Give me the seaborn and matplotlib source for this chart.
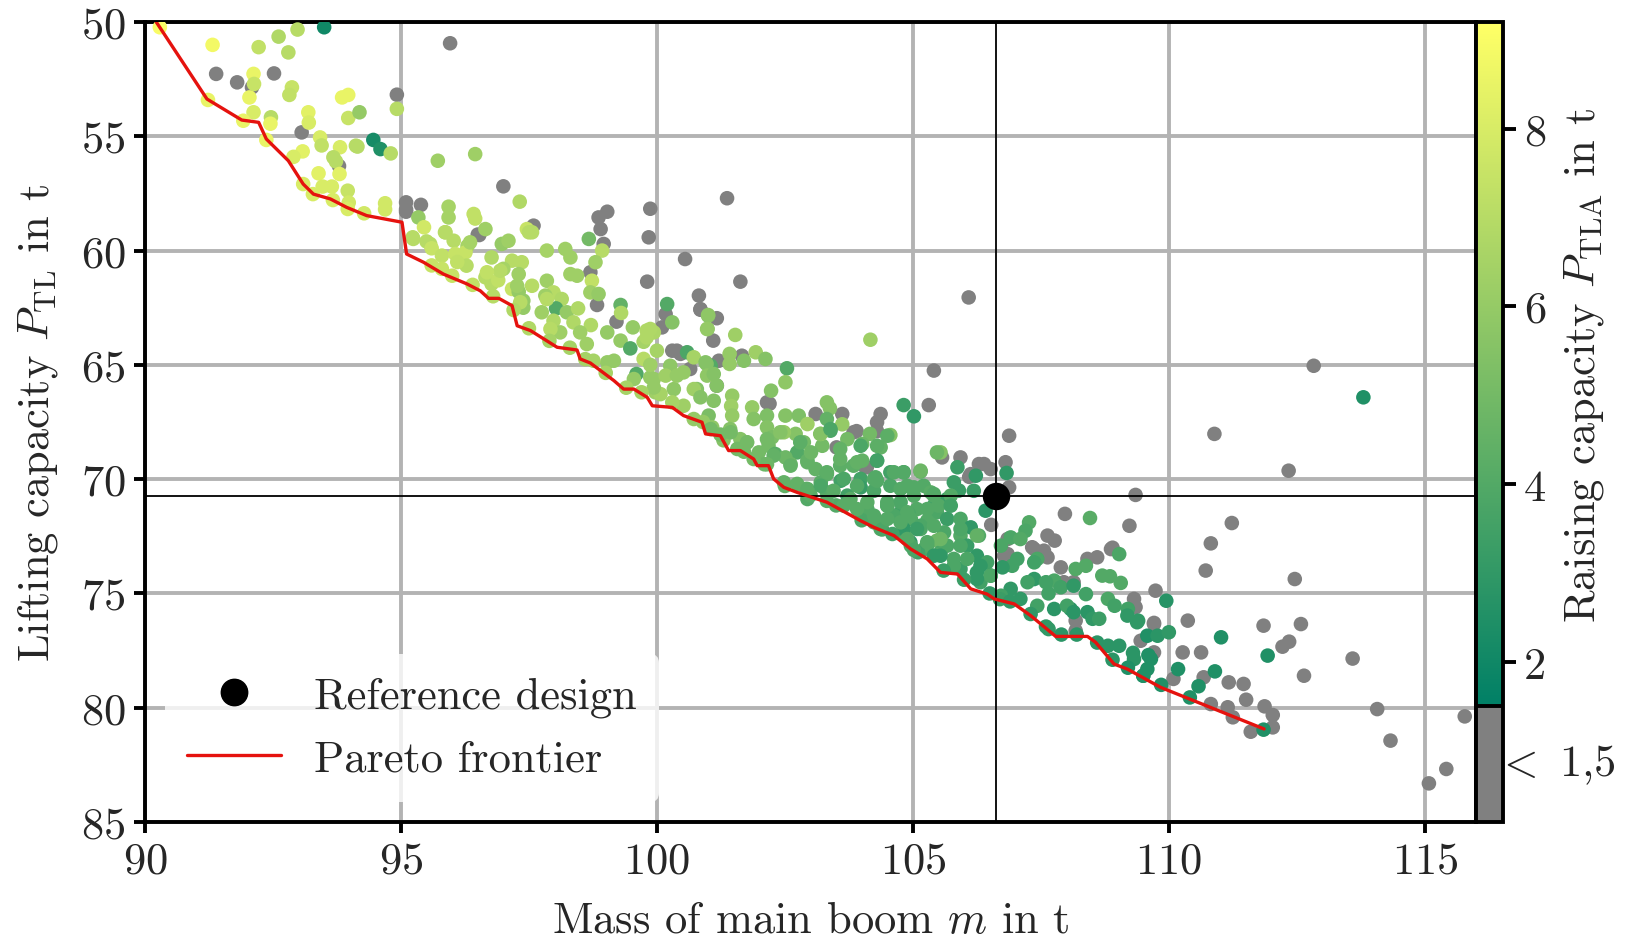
import numpy as np
import pandas as pd
import matplotlib
matplotlib.use("Agg")
import matplotlib.pyplot as plt
import matplotlib.transforms as mtransforms
from matplotlib.colors import ListedColormap, Normalize, to_rgba
from matplotlib.cm import ScalarMappable
from matplotlib.lines import Line2D
import seaborn as sns

# ---------------- data ----------------
x_ticks = [90, 95, 100, 105, 110, 115]
y_ticks = [50, 55, 60, 65, 70, 75, 80, 85]
cbar_ticks = [2, 4, 6, 8]
below_label = "$<\\ 1{,}5$"
RAISE_BELOW = 1.0   # designs with raising capacity < 1,5 t (shown grey)

ref_mass = 106.63
ref_lift = 70.72

pareto_mass = [90.22, 91.21, 91.89, 92.22, 92.37, 92.80, 93.09, 93.29, 93.62, 93.94,
               94.33, 95.02, 95.11, 95.44, 95.83, 96.29, 96.55, 96.71, 96.91, 97.17,
               97.27, 97.53, 98.05, 98.44, 98.5, 98.7, 99.16, 99.35, 99.55, 99.81,
               99.91, 100.3, 100.52, 100.88, 100.95, 101.24, 101.4, 101.63, 101.89, 101.96,
               102.18, 102.28, 102.48, 102.74, 103.32, 103.98, 104.24, 104.63, 104.96, 105.28,
               105.54, 105.87, 106.13, 106.45, 106.59, 106.98, 107.3, 107.5, 107.79, 108.41,
               108.57, 108.93, 109.19, 109.84, 111.86]
pareto_lift = [50.0, 53.37, 54.29, 54.39, 55.12, 56.07, 57.09, 57.53, 57.74, 58.11,
               58.47, 58.76, 60.15, 60.51, 61.03, 61.46, 61.76, 62.09, 62.09, 62.41,
               63.29, 63.5, 64.23, 64.35, 64.74, 64.92, 65.69, 66.06, 66.06, 66.42,
               66.79, 66.86, 67.22, 67.51, 68.02, 68.1, 68.75, 68.75, 69.12, 69.41,
               69.41, 69.99, 70.36, 70.58, 71.01, 71.82, 72.11, 72.47, 73.06, 73.49,
               74.08, 74.15, 74.8, 75.03, 75.24, 75.46, 75.97, 76.34, 76.88, 76.88,
               77.14, 78.09, 78.31, 79.11, 80.93]

# grey designs (raising capacity < 1,5 t)
mass_grey = [91.39, 91.8, 92.09, 92.52, 94.92, 93.06, 93.79, 95.96, 95.1, 95.39, 95.1, 96.5,
             95.1, 96.53, 97.0, 97.59, 98.86, 99.03, 98.9, 98.96, 99.87, 99.84, 100.55, 99.81,
             98.7, 98.83, 99.21, 100.17, 100.1, 100.82, 100.85, 101.1, 100.39, 100.65,
             101.63, 100.85, 101.17, 100.3, 100.46, 101.21, 101.66, 106.09, 101.17, 102.15,
             102.2, 103.1, 103.62, 104.37, 105.31, 105.41, 104.3, 104.3, 103.9, 104.1,
             105.57, 105.93, 106.1, 106.29,
             106.88, 110.89, 106.39, 106.81, 106.52, 106.13, 106.88, 109.35, 107.97, 109.23,
             111.23, 106.53, 107.63, 107.77, 107.33, 110.82, 110.72, 108.87, 108.9, 108.41,
             108.6, 108.14, 107.63, 106.85, 108.18, 109.35, 109.32, 109.74, 109.71, 109.45,
             110.37, 110.27, 110.63, 109.71,
             106.85, 106.78, 107.37, 107.56, 107.89, 107.95, 108.18, 109.71, 101.37,
             112.83, 112.34, 112.46, 112.58, 111.85, 112.35, 112.22, 113.59, 112.64, 110.09,
             110.68, 111.17, 111.46, 111.51, 110.82, 111.15, 111.25, 111.87, 112.03, 112.03,
             111.6, 114.07, 114.33, 115.42, 115.08, 115.78,
             103.84, 103.51, 104.04]
lift_grey = [52.27, 52.64, 52.86, 52.25, 53.18, 54.83, 56.3, 50.93, 57.89, 58.0, 58.2, 59.3,
             58.3, 59.32, 57.19, 58.91, 58.55, 58.3, 59.06, 59.71, 58.17, 59.42, 60.37, 61.36,
             60.95, 62.38, 63.11, 62.78, 63.36, 61.97, 62.56, 63.94, 64.38, 65.18,
             61.36, 62.59, 62.96, 64.38, 64.52, 64.82, 64.6, 62.05, 65.91, 66.64,
             66.7, 67.15, 67.15, 67.15, 66.76, 65.25, 67.51, 67.9, 67.9, 69.48,
             69.05, 69.05, 69.9, 69.34,
             68.1, 68.02, 69.34, 69.26, 69.56, 69.78, 70.36, 70.69, 71.52, 72.04,
             71.92, 72.0, 72.47, 72.69, 72.98, 72.81, 74.0, 73.06, 73.0, 73.49,
             73.42, 74.51, 73.42, 73.28, 76.19, 75.6, 75.24, 74.88, 76.29, 77.07,
             76.19, 77.58, 77.58, 77.58,
             72.62, 73.35, 73.06, 73.13, 73.86, 74.51, 76.63, 76.34, 57.71,
             65.04, 69.63, 74.37, 76.34, 76.41, 77.11, 77.33, 77.85, 78.6, 78.74,
             78.67, 78.89, 78.96, 79.65, 79.84, 79.98, 80.42, 79.94, 80.32, 80.86,
             81.05, 80.06, 81.44, 82.68, 83.31, 80.38,
             67.95, 68.61, 69.41]

# coloured designs, upper-left part (m < 96.5 t)
mass_a = [90.29, 91.32, 92.12, 92.13, 92.04, 92.22, 92.61, 92.98, 93.5, 92.8,
          91.23, 92.12, 91.92, 92.46, 92.45, 92.87, 92.82, 93.19, 93.2, 93.85,
          93.97, 93.97, 94.19, 94.92, 92.37, 93.42, 93.45, 93.81, 94.12, 94.15,
          94.46, 94.6, 94.8, 93.08, 92.9, 93.68, 93.73, 93.8, 93.39, 93.09,
          93.47, 93.65, 93.96, 93.28, 93.67, 93.98, 93.96, 94.28, 94.69, 94.69,
          95.72, 96.45, 95.34, 95.45, 95.93, 95.93, 96.42, 95.87, 95.23, 95.5,
          96.03, 96.3]
lift_a = [50.23, 51.0, 52.27, 52.71, 53.3, 51.1, 50.64, 50.33, 50.23, 51.33,
          53.41, 53.95, 54.32, 54.17, 54.45, 52.86, 53.19, 53.95, 54.4, 53.3,
          53.19, 54.2, 53.95, 53.8, 55.16, 55.05, 55.4, 55.48, 55.41, 55.45,
          55.16, 55.56, 55.75, 55.66, 55.9, 55.92, 56.1, 56.65, 56.62, 57.09,
          57.2, 57.2, 57.38, 57.53, 57.79, 57.9, 58.18, 58.37, 57.93, 58.2,
          56.07, 55.78, 58.55, 58.98, 58.08, 58.55, 58.4, 59.2, 59.42, 59.6,
          59.57, 59.8]
raise_a = [9.0, 8.8, 8.5, 7.5, 8.5, 7.3, 6.8, 7.0, 2.0, 7.0,
           8.5, 8.0, 8.5, 7.0, 8.5, 7.5, 7.3, 8.3, 8.0, 8.5,
           8.5, 7.5, 6.0, 7.0, 8.5, 8.0, 7.3, 8.0, 7.0, 7.0,
           2.2, 2.5, 7.0, 8.3, 8.0, 7.0, 7.0, 8.3, 8.3, 8.0,
           8.0, 8.0, 7.5, 8.0, 8.0, 7.8, 8.0, 7.8, 7.8, 7.8,
           6.3, 6.3, 6.0, 7.8, 6.5, 6.5, 7.3, 7.0, 7.0, 7.0,
           7.0, 6.5]

# coloured designs, 95 t .. 101 t
mass_b = [96.45, 96.65, 97.32, 97.46, 97.5, 95.24, 95.57, 95.6, 95.86, 95.8,
          96.06, 96.26, 96.35, 96.28, 95.8, 96.1, 96.97, 97.1, 96.77, 97.17,
          97.36, 97.3, 97.0, 96.65, 96.77, 96.9, 97.17, 97.3, 97.39, 97.39,
          97.56, 97.85, 98.21, 98.31, 98.67, 98.93, 98.8, 98.73, 98.31, 98.44,
          97.85, 97.98, 98.14, 97.82, 98.03, 98.24, 98.46, 97.75, 97.98, 98.37,
          98.7, 98.86, 98.71, 98.11, 98.5, 98.63, 99.03, 99.29, 99.3, 99.53,
          99.29, 99.48, 99.74, 99.94, 99.74, 100.0, 100.2, 100.3, 101.0, 100.99,
          100.59, 100.72, 100.95, 100.26, 100.52, 99.6, 99.03, 99.16, 98.76, 99.55,
          99.94, 100.17, 100.33, 100.78, 101.05, 101.17, 99.97, 97.56, 97.27, 97.85,
          96.94, 96.68, 97.33, 97.92, 99.87]
lift_b = [58.6, 59.06, 57.86, 59.06, 59.2, 59.49, 59.71, 59.9, 59.2, 60.22,
          60.15, 60.08, 59.64, 60.66, 60.8, 60.5, 59.71, 59.57, 60.3, 60.44,
          60.51, 61.03, 60.8, 61.17, 61.46, 61.3, 61.68, 61.8, 62.19, 62.5,
          61.54, 60.0, 59.93, 60.3, 59.49, 60.0, 60.51, 61.32, 61.03, 61.1,
          61.32, 61.83, 62.12, 61.97, 62.53, 62.7, 62.53, 62.7, 63.07, 63.14,
          61.83, 61.9, 63.26, 63.58, 63.58, 64.09, 63.58, 62.38, 62.73, 63.36,
          63.94, 64.28, 63.99, 63.58, 64.74, 64.38, 62.34, 63.14, 62.85, 63.43,
          64.45, 64.67, 64.89, 65.04, 65.33, 65.4, 64.89, 64.82, 64.82, 65.62,
          65.62, 65.47, 66.06, 66.06, 65.04, 65.91, 66.2, 59.2, 61.54, 62.12,
          60.88, 60.95, 62.26, 63.43, 63.43]
raise_b = [7.3, 6.3, 6.8, 7.5, 7.0, 7.0, 7.0, 7.5, 7.0, 7.3,
           7.5, 7.5, 6.5, 7.0, 7.5, 7.3, 6.0, 6.3, 6.8, 7.0,
           7.0, 6.3, 6.5, 7.0, 7.0, 7.3, 7.5, 6.0, 6.0, 6.0,
           7.0, 6.5, 6.3, 6.3, 5.0, 7.0, 6.3, 7.3, 6.3, 6.3,
           6.3, 7.0, 6.8, 6.3, 4.0, 6.0, 6.8, 6.3, 6.8, 6.8,
           6.3, 6.0, 6.8, 6.3, 6.3, 6.3, 6.0, 4.5, 6.8, 6.0,
           6.0, 4.0, 6.5, 6.7, 7.0, 6.5, 4.0, 5.5, 5.5, 5.8,
           3.8, 6.5, 5.5, 5.8, 6.0, 4.0, 6.0, 6.0, 6.5, 6.0,
           6.0, 6.3, 5.8, 5.5, 4.0, 5.5, 6.3, 7.0, 6.3, 7.0,
           7.0, 7.3, 7.0, 7.0, 6.8]

# coloured designs, 100 t .. 106 t
mass_c = [101.0, 100.98, 99.8, 99.8, 101.53, 100.97, 101.42, 101.42, 101.7, 101.93,
          102.12, 104.17, 102.54, 102.51, 100.39, 100.98, 101.11, 100.72, 100.85, 101.11,
          101.47, 101.45, 102.23, 101.86, 103.32, 103.38, 101.01, 101.47, 101.89, 102.15,
          102.51, 102.77, 103.32, 103.62, 104.82, 105.02, 104.16, 104.56, 104.37, 104.3,
          104.01, 103.72, 103.39, 103.23, 102.94, 103.2, 102.71, 102.48, 102.87, 102.74,
          102.15, 102.25, 102.18, 102.31, 101.76, 101.99, 101.63, 101.43, 101.3, 101.08,
          100.72, 100.52, 100.3, 100.07, 99.94, 99.87, 99.87, 102.51, 102.61, 102.94,
          103.1, 103.32, 103.58, 103.84, 104.01, 104.27, 103.98, 103.59, 103.2, 102.91,
          102.74, 102.94, 103.32, 103.72, 103.98, 104.24, 104.56, 104.82, 105.15, 105.54,
          105.87, 106.23, 104.56, 104.89, 105.21, 105.35, 105.8, 105.9, 104.5, 104.76,
          105.08, 105.41, 105.67, 105.47]
lift_c = [62.82, 63.43, 63.5, 63.8, 63.69, 64.96, 64.52, 64.96, 64.82, 64.45,
          64.74, 63.9, 65.15, 65.76, 65.47, 65.47, 65.4, 66.06, 66.42, 66.57,
          66.35, 66.8, 66.13, 66.86, 66.64, 66.9, 67.22, 67.22, 67.37, 67.22,
          67.22, 67.22, 67.37, 67.6, 66.76, 67.25, 68.02, 68.07, 68.61, 69.19,
          68.46, 68.25, 67.88, 68.54, 67.59, 68.02, 68.02, 67.95, 68.39, 68.83,
          67.73, 68.17, 68.54, 68.9, 68.39, 68.83, 68.25, 67.81, 68.1, 67.73,
          67.37, 66.79, 66.64, 66.28, 65.99, 65.55, 65.0, 69.05, 69.34, 69.19,
          69.56, 69.78, 69.41, 69.41, 69.19, 69.92, 69.99, 70.07, 70.14, 70.43,
          70.21, 70.87, 70.58, 70.72, 70.36, 70.51, 69.7, 69.7, 69.67, 68.83,
          69.48, 69.85, 70.29, 70.29, 70.29, 70.58, 70.14, 70.5, 71.16, 71.45,
          71.31, 71.16, 70.87, 71.45]
raise_c = [5.8, 6.0, 6.8, 6.8, 6.3, 5.5, 6.0, 6.0, 5.5, 6.3,
           5.5, 6.3, 4.0, 5.8, 6.0, 5.8, 5.5, 6.3, 5.5, 5.5,
           6.0, 6.3, 5.5, 6.0, 5.5, 5.5, 5.2, 6.0, 5.5, 5.3,
           5.5, 5.3, 4.5, 6.0, 3.3, 3.0, 5.0, 5.5, 4.5, 3.3,
           4.8, 5.0, 3.8, 5.0, 6.3, 6.3, 5.5, 6.0, 5.0, 4.0,
           5.5, 5.2, 5.0, 4.2, 5.5, 5.0, 5.5, 5.5, 5.5, 5.8,
           6.0, 6.3, 6.5, 6.5, 6.0, 6.0, 6.3, 4.8, 4.8, 4.5,
           4.5, 4.3, 4.3, 4.3, 4.5, 4.0, 3.5, 3.5, 4.2, 4.3,
           4.5, 4.0, 4.0, 3.5, 3.2, 3.8, 3.5, 3.5, 4.5, 5.5,
           3.3, 3.0, 3.8, 4.0, 4.0, 4.2, 3.3, 3.3, 3.8, 3.5,
           4.0, 3.5, 3.3, 3.8]

# coloured designs, 104 t .. 114 t
mass_d = [106.83, 105.02, 105.41, 105.74, 106.19, 106.42, 108.46, 107.27, 107.2, 106.91,
          109.03, 108.18, 108.38, 108.7, 108.85, 109.06, 107.43, 106.94, 106.75, 107.37,
          107.76, 107.89, 108.38, 108.08, 108.41, 108.51, 108.64, 108.81, 108.94, 109.2,
          109.4, 109.95, 109.58, 109.78, 110.0, 111.02, 108.81, 109.03, 109.3, 109.6,
          104.3, 105.5, 105.74, 104.11, 104.5, 104.63, 104.92, 105.28, 105.67, 105.93,
          106.13, 106.29, 105.93, 105.61, 105.15, 104.82, 104.37, 104.24, 105.47, 104.95,
          105.22, 105.67, 106.06, 106.25, 105.8, 105.54, 106.45, 105.93, 106.25, 106.52,
          106.32, 106.72, 107.1, 107.04, 107.37, 108.14, 107.6, 107.24, 106.91, 106.72,
          107.1, 107.43, 107.76, 108.01, 108.14, 107.65, 104.76, 104.96, 104.82, 105.15,
          105.54, 105.93, 106.25, 105.28, 105.54, 105.93, 106.06, 106.32, 106.52, 106.25,
          105.8, 105.41, 104.96, 106.7, 107.65, 109.32, 109.58, 109.5, 109.19, 109.38,
          113.8, 111.93, 110.18, 110.58, 110.9, 110.41, 111.85, 109.65]
lift_d = [69.73, 70.36, 70.65, 70.72, 70.51, 71.38, 71.7, 71.89, 72.26, 72.55,
          73.28, 73.93, 73.79, 74.22, 74.25, 74.54, 73.49, 73.79, 73.86, 74.37,
          74.44, 74.73, 75.03, 75.68, 75.82, 76.11, 76.11, 75.24, 75.54, 75.68,
          76.19, 75.32, 76.85, 76.85, 76.7, 76.92, 77.29, 77.29, 77.6, 77.7,
          70.07, 71.16, 71.16, 71.31, 71.01, 71.6, 71.52, 71.82, 71.74, 71.74,
          72.11, 72.47, 72.47, 72.33, 72.18, 72.33, 72.18, 71.89, 72.69, 72.76,
          73.06, 72.91, 72.91, 73.35, 73.49, 73.2, 73.64, 73.93, 74.08, 74.22,
          74.51, 72.91, 72.62, 73.49, 73.64, 74.66, 74.51, 74.51, 74.8, 75.1,
          75.24, 75.54, 75.68, 75.54, 75.82, 75.0, 71.01, 71.74, 72.18, 72.04,
          72.62, 72.18, 72.47, 72.91, 73.35, 72.91, 73.49, 73.79, 74.22, 74.37,
          73.79, 73.35, 72.91, 75.25, 76.56, 77.87, 78.31, 78.6, 75.97, 76.26,
          66.42, 77.72, 78.31, 79.06, 78.41, 79.55, 80.96, 77.87]
raise_d = [3.0, 4.0, 4.0, 4.0, 3.3, 2.8, 4.2, 4.0, 3.8, 3.8,
           3.8, 4.0, 4.0, 4.0, 4.0, 4.0, 3.8, 3.5, 3.0, 3.0,
           3.8, 3.5, 3.5, 2.8, 2.8, 3.0, 3.3, 3.8, 3.5, 3.5,
           3.0, 2.7, 2.5, 2.8, 3.0, 2.5, 2.8, 2.8, 2.8, 2.5,
           4.0, 4.0, 3.5, 4.0, 4.0, 3.8, 3.8, 4.0, 3.3, 3.8,
           3.0, 4.0, 4.0, 3.8, 3.8, 4.0, 4.0, 4.0, 4.8, 3.0,
           3.8, 3.8, 3.2, 3.0, 3.8, 3.8, 3.5, 3.3, 3.0, 3.0,
           3.5, 3.8, 4.0, 3.5, 3.5, 3.0, 3.5, 3.5, 3.0, 3.5,
           3.0, 3.5, 2.8, 3.5, 2.8, 3.5, 3.8, 4.0, 3.0, 3.8,
           4.8, 3.8, 4.5, 4.0, 3.0, 3.8, 3.8, 3.0, 3.8, 3.0,
           3.8, 3.0, 3.8, 3.3, 3.0, 2.8, 2.5, 2.5, 3.0, 3.0,
           2.5, 2.5, 2.5, 2.5, 2.5, 2.5, 2.5, 2.5]

# coloured designs lying on the Pareto frontier
mass_e = [104.0, 104.4, 104.6, 105.1, 105.6, 106.0, 106.5, 106.9, 107.3, 107.6,
          107.9, 108.2, 108.6, 108.9, 109.2, 109.5, 109.85, 100.9, 101.3, 101.7,
          102.1, 102.5, 103.0, 103.5, 95.6, 96.0, 96.4, 96.8, 97.2, 97.5,
          97.9, 98.3, 98.6, 99.0, 99.4, 99.7]
lift_e = [71.8, 72.2, 72.4, 73.2, 74.0, 74.4, 75.0, 75.35, 75.9, 76.45,
          76.8, 76.8, 77.15, 77.9, 78.25, 78.6, 79.0, 67.5, 68.3, 68.8,
          69.35, 70.3, 70.7, 71.15, 60.65, 61.1, 61.5, 62.0, 62.6, 63.4,
          63.95, 64.25, 64.75, 65.35, 66.0, 66.2]
raise_e = [3.8, 3.8, 3.5, 3.5, 3.3, 3.3, 3.0, 3.0, 3.0, 3.0,
           2.8, 2.8, 2.8, 2.8, 2.5, 2.5, 2.5, 6.0, 5.5, 5.0,
           4.8, 4.5, 4.2, 4.0, 7.5, 7.5, 7.3, 7.0, 6.8, 6.8,
           6.5, 6.5, 6.5, 6.5, 6.5, 6.5]

# coloured designs, dense band 101 t .. 105.5 t
mass_f = [101.05, 101.44, 101.76, 102.15, 102.41, 102.8, 103.19, 103.39, 103.58, 103.91,
          104.3, 104.5, 104.3, 102.28, 102.61, 102.94, 103.32, 103.65, 103.91, 104.24,
          104.63, 104.82, 105.15, 104.76, 105.02, 105.41, 102.94, 103.2, 103.45, 103.78,
          104.11, 104.5, 104.89, 105.28, 105.41, 105.08, 104.76, 104.5, 104.89, 105.28,
          105.02, 103.91, 104.24, 103.65, 103.32, 102.48, 102.15, 101.57, 101.89, 101.24,
          103.01, 103.58, 103.98, 105.47]
lift_f = [67.81, 67.95, 68.39, 68.25, 67.95, 68.39, 68.02, 67.81, 68.68, 69.26,
          68.54, 68.1, 69.19, 68.97, 69.41, 69.26, 69.7, 69.99, 70.29, 69.99,
          69.7, 69.7, 69.63, 70.43, 70.72, 70.72, 70.43, 70.29, 70.51, 70.87,
          71.01, 71.16, 71.45, 71.31, 72.04, 72.18, 71.89, 71.74, 72.62, 72.76,
          73.1, 71.31, 71.6, 71.16, 70.95, 70.14, 69.35, 68.68, 69.12, 68.05,
          68.83, 69.12, 68.54, 68.83]
raise_f = [5.0, 5.0, 5.0, 5.0, 5.5, 4.3, 5.5, 3.8, 4.5, 4.5,
           4.3, 4.3, 3.5, 4.5, 4.5, 4.5, 4.3, 3.8, 4.0, 4.0,
           4.0, 4.0, 4.8, 4.0, 4.0, 4.0, 4.3, 3.8, 4.2, 4.2,
           4.2, 4.0, 4.0, 4.0, 4.0, 3.3, 4.0, 4.0, 4.0, 4.0,
           3.8, 4.2, 4.0, 4.2, 4.2, 4.5, 4.8, 5.0, 5.0, 5.0,
           4.8, 4.5, 3.8, 4.8]

# ---------------- assemble ----------------
groups = [(mass_a, lift_a, raise_a), (mass_b, lift_b, raise_b),
          (mass_c, lift_c, raise_c), (mass_d, lift_d, raise_d),
          (mass_e, lift_e, raise_e), (mass_f, lift_f, raise_f)]
for m_, l_, r_ in groups:
    assert len(m_) == len(l_) == len(r_), (len(m_), len(l_), len(r_))
assert len(mass_grey) == len(lift_grey)

mass_all = list(mass_grey)
lift_all = list(lift_grey)
raise_all = [RAISE_BELOW] * len(mass_grey)
for m_, l_, r_ in groups:
    mass_all += m_
    lift_all += l_
    raise_all += r_
df = pd.DataFrame({"mass": mass_all, "lift": lift_all, "raise": raise_all})

# ---------------- style ----------------
sns.set_style("white")
plt.rcParams.update({
    "font.family": "serif",
    "font.serif": ["cmr10"],
    "mathtext.fontset": "cm",
    "axes.unicode_minus": False,
    "axes.formatter.use_mathtext": True,
})
FS = 32
LW = 2.8
RED = "#e5120e"
GREY = "#808080"

cb_lo, cb_hi, grey_cut = 0.2, 9.2, 1.5
n_col = 900
n_grey = int(round(n_col * (grey_cut - cb_lo) / (cb_hi - cb_lo)))
summer = plt.get_cmap("summer")
cols = np.vstack([np.tile(to_rgba(GREY), (n_grey, 1)),
                  summer(np.linspace(0, 1, n_col - n_grey))])
cmap = ListedColormap(cols)
norm = Normalize(cb_lo, cb_hi)

W, H = 1634, 945
fig = plt.figure(figsize=(W / 100, H / 100), dpi=100)
ax_l, ax_r, ax_t, ax_b = 145, 1476, 23, 823
ax = fig.add_axes([ax_l / W, (H - ax_b) / H, (ax_r - ax_l) / W, (ax_b - ax_t) / H])
cax = fig.add_axes([ax_r / W, (H - ax_b) / H, 27 / W, (ax_b - ax_t) / H])

sns.scatterplot(data=df, x="mass", y="lift", hue="raise", palette=cmap, hue_norm=norm,
                s=110, linewidth=0, legend=False, ax=ax, zorder=3)
ax.axvline(ref_mass, color="k", lw=1.3, zorder=4)
ax.axhline(ref_lift, color="k", lw=1.3, zorder=4)
sns.lineplot(x=pareto_mass, y=pareto_lift, sort=False, estimator=None, color=RED,
             linewidth=2.4, ax=ax, zorder=5)
sns.scatterplot(x=[ref_mass], y=[ref_lift], color="k", s=390, linewidth=0,
                legend=False, ax=ax, zorder=6)

ax.set_xlim(90, 116)
ax.set_ylim(85, 50)
ax.set_xticks(x_ticks)
ax.set_yticks(y_ticks)
ax.grid(True, color="#b3b3b3", lw=LW)
ax.set_axisbelow(True)
for sp in ax.spines.values():
    sp.set_color("k")
    sp.set_linewidth(LW)
ax.tick_params(axis="both", which="major", bottom=True, left=True, length=8,
               width=LW, labelsize=FS, color="k", pad=6)
ax.set_xlabel("")
ax.set_ylabel("")

h1 = Line2D([], [], marker="o", ls="none", color="k", markersize=19)
h2 = Line2D([], [], color=RED, lw=2.4)
leg = ax.legend([h1, h2], ["Reference design", "Pareto frontier"], loc="lower left",
                fontsize=FS, frameon=True, framealpha=0.8, edgecolor="none",
                handlelength=2.1, handletextpad=0.75, borderaxespad=0.45,
                borderpad=0.5, labelspacing=0.52)
leg.set_zorder(10)

fig.text((ax_l + ax_r) / 2 / W, 1 - 922 / H, "Mass of main boom $m$ in t",
         ha="center", va="center", fontsize=FS)
fig.text(38 / W, 1 - (ax_t + ax_b) / 2 / H, "Lifting capacity $P_\\mathrm{TL}$ in t",
         ha="center", va="center", rotation=90, fontsize=FS)

# colour bar
sm = ScalarMappable(norm=norm, cmap=cmap)
cb = fig.colorbar(sm, cax=cax)
cb.set_ticks(cbar_ticks)
cb.set_ticklabels([str(t) for t in cbar_ticks])
cb.outline.set_linewidth(LW)
cb.outline.set_edgecolor("k")
cax.tick_params(length=9, width=LW, labelsize=FS, pad=6, color="k")
cax.axhline(grey_cut, color="k", lw=LW)
trans = mtransforms.blended_transform_factory(cax.transAxes, cax.transData)
cax.text(0.75, (cb_lo + grey_cut) / 2, below_label, transform=trans, fontsize=FS,
         va="center", ha="left")
col_mid = ax_b - (ax_b - ax_t) * ((grey_cut - cb_lo) / (cb_hi - cb_lo) + 1) / 2
fig.text(1584 / W, 1 - col_mid / H, "Raising capacity $P_\\mathrm{TLA}$ in t",
         ha="center", va="center", rotation=90, fontsize=FS)

fig.savefig("out.png", dpi=100)
